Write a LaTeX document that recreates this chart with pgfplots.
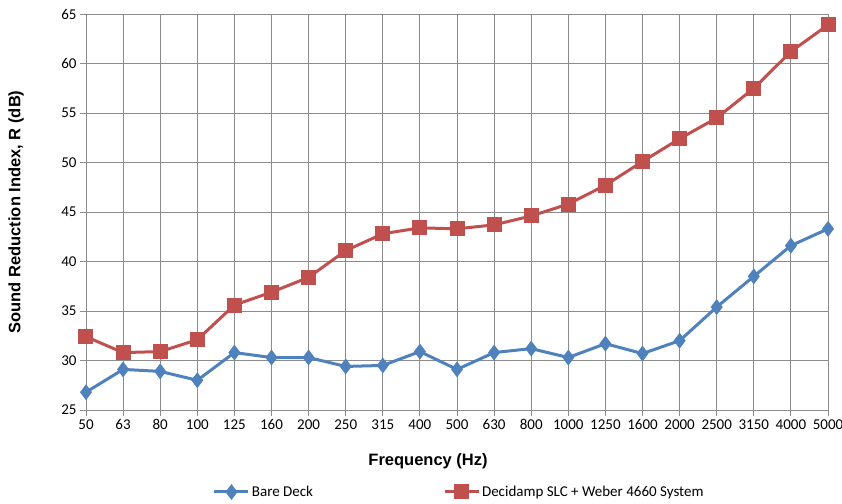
\documentclass[border=0pt]{standalone}
\usepackage{fontspec}
\setmainfont{Carlito}
\newfontfamily\arialfont{Liberation Sans}
\usepackage{pgfplots}
\pgfplotsset{compat=1.18}

\definecolor{xlblue}{HTML}{4F81BD}
\definecolor{xlred}{HTML}{C0504D}
\definecolor{gridgray}{HTML}{8C8C8C}

\begin{document}
\begin{tikzpicture}
% axis box: 742 x 396 bp with its south west corner at the origin
\path[use as bounding box] (-86bp,-94bp) rectangle (756bp,410bp);
\begin{axis}[
    scale only axis,
    width=742bp, height=396bp,
    xmin=0, xmax=20, ymin=25, ymax=65,
    xtick={0,...,20},
    xticklabels={50,63,80,100,125,160,200,250,315,400,500,630,800,1000,1250,1600,2000,2500,3150,4000,5000},
    ytick={25,30,...,65},
    grid=major,
    major grid style={gridgray, line width=0.9bp},
    axis line style={gridgray, line width=0.9bp},
    tick style={gridgray, line width=0.9bp},
    tick align=outside,
    major tick length=6bp,
    xtick pos=bottom, ytick pos=left,
    /pgf/number format/assume math mode=true,
    ticklabel style={font=\fontsize{15bp}{18bp}\selectfont, text=black},
    xlabel={Frequency (Hz)},
    ylabel={Sound Reduction Index, R (dB)},
    label style={font=\arialfont\bfseries\fontsize{16.5bp}{19bp}\selectfont},
    xlabel style={at={(axis description cs:0.461,-0.129)}, anchor=center},
    ylabel style={at={(axis description cs:-0.0943,0.5)}, anchor=center},
    legend columns=2,
    legend style={at={(axis description cs:0.503,-0.207)}, anchor=center, draw=none,
        font=\fontsize{15bp}{18bp}\selectfont,
        /tikz/every even column/.append style={column sep=128bp}},
    legend image code/.code={
        \draw[mark repeat=2, mark phase=2] plot coordinates {(0bp,0bp) (17bp,0bp) (34bp,0bp)};
    },
]
\addplot[xlblue, line width=3bp, mark=diamond*, mark size=5.5bp, mark options={solid}] coordinates {
    (0,26.8) (1,29.1) (2,28.9) (3,28.0) (4,30.8) (5,30.3) (6,30.3) (7,29.4) (8,29.5) (9,30.9)
    (10,29.1) (11,30.8) (12,31.2) (13,30.3) (14,31.7) (15,30.7) (16,32.0) (17,35.4) (18,38.5)
    (19,41.6) (20,43.3)
};
\addlegendentry{Bare Deck}
\addplot[xlred, line width=3bp, mark=square*, mark size=6bp, mark options={solid}] coordinates {
    (0,32.4) (1,30.8) (2,30.9) (3,32.1) (4,35.6) (5,36.9) (6,38.4) (7,41.1) (8,42.8) (9,43.4)
    (10,43.3) (11,43.7) (12,44.6) (13,45.8) (14,47.7) (15,50.1) (16,52.4) (17,54.5) (18,57.5)
    (19,61.2) (20,63.9)
};
\addlegendentry{Decidamp SLC + Weber 4660 System}
\end{axis}
\end{tikzpicture}
\end{document}
